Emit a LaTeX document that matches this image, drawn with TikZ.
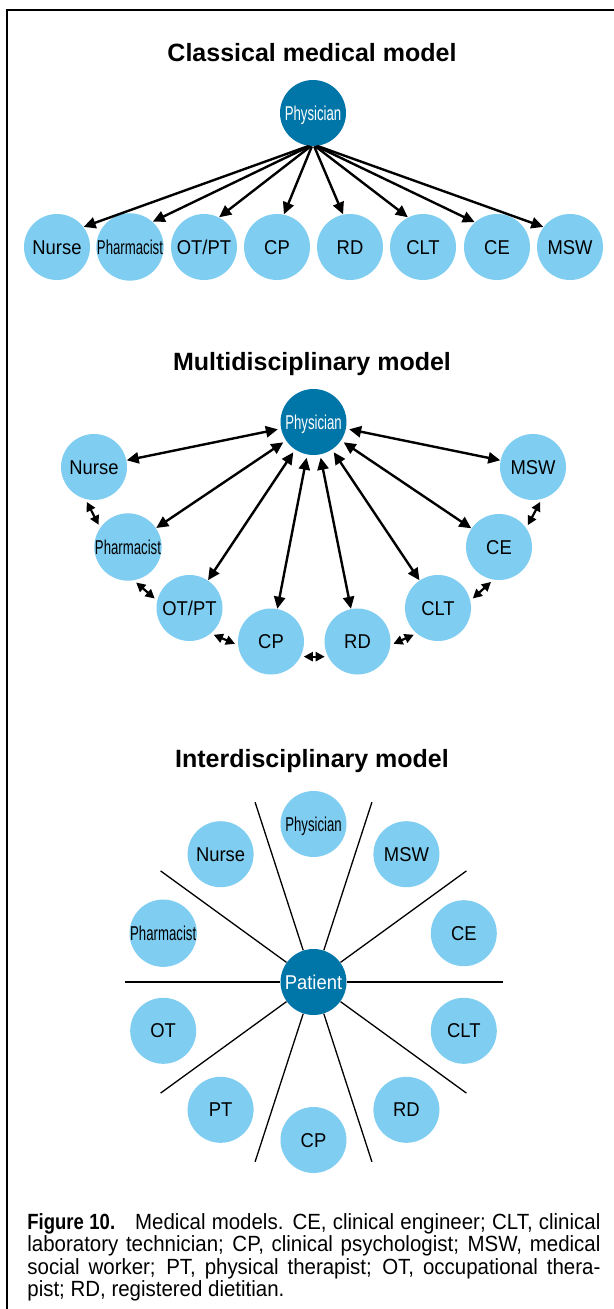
\documentclass[tikz,border=0pt]{standalone}
\usepackage{fontspec}
\usepackage{graphicx}
\setmainfont{Liberation Sans}
\newfontfamily\labelfont[FakeStretch=0.92]{Liberation Sans}
\newfontfamily\narrowfont[FakeStretch=0.66]{Liberation Sans}
\newfontfamily\captionfont[FakeStretch=0.93]{Liberation Sans}
\newfontfamily\capboldfont[FakeStretch=0.84]{Liberation Sans}
\usetikzlibrary{arrows.meta}

\definecolor{cellblue}{RGB}{127,205,241}
\definecolor{coreblue}{RGB}{0,118,168}

\tikzset{
  rolenode/.style={circle, fill=cellblue, minimum size=33pt, inner sep=0pt,
    text=black, font=\labelfont\fontsize{10pt}{11pt}\selectfont,
    text height=7.1pt, text depth=0pt},
  slim/.style={font=\narrowfont\fontsize{10pt}{11pt}\selectfont},
  corenode/.style={rolenode, fill=coreblue, text=white},
  titletext/.style={font=\bfseries\fontsize{12.5pt}{14pt}\selectfont,
    anchor=base, inner sep=0pt},
  oneway/.style={line width=1.2pt, -{Triangle[length=6pt,width=5.6pt]}},
  twoway/.style={line width=1.2pt,
    {Triangle[length=6pt,width=5.6pt]}-{Triangle[length=6pt,width=5.6pt]},
    shorten <=1.5pt},
  peerway/.style={line width=1.1pt,
    {Triangle[length=4.6pt,width=4.6pt]}-{Triangle[length=4.6pt,width=4.6pt]},
    shorten <=1.5pt, shorten >=1.5pt},
  spokeline/.style={line width=0.65pt},
  captionline/.style={anchor=base west, inner sep=0pt,
    font=\captionfont\fontsize{11pt}{12pt}\selectfont},
}

\begin{document}
\begin{tikzpicture}[x=0.5pt, y=-0.5pt]
\useasboundingbox (0,0) rectangle (614,1309);

% outer frame
\draw[line width=1.1pt] (7,1309) |- (614,10);

% ---------------- classical medical model ----------------
\node[titletext] (t1) at (312,61.5) {Classical medical model};
\node[corenode, slim] (cphys) at (313,113) {Physician};
\node[rolenode] (cnurse) at (57,247) {Nurse};
\node[rolenode, slim] (cpharm) at (130,247) {Pharmacist};
\node[rolenode] (cotpt) at (204,247) {OT/PT};
\node[rolenode] (ccp) at (277,247) {CP};
\node[rolenode] (crd) at (350,247) {RD};
\node[rolenode] (cclt) at (423,247) {CLT};
\node[rolenode] (cce) at (497,247) {CE};
\node[rolenode] (cmsw) at (570,247) {MSW};

\draw[oneway] (cphys.262) -- (cnurse.37);
\draw[oneway] (cphys.264) -- (cpharm.48);
\draw[oneway] (cphys.266) -- (cotpt.63);
\draw[oneway] (cphys.268) -- (ccp.78);
\draw[oneway] (cphys.272) -- (crd.102);
\draw[oneway] (cphys.274) -- (cclt.117);
\draw[oneway] (cphys.276) -- (cce.132);
\draw[oneway] (cphys.278) -- (cmsw.143);

% ---------------- multidisciplinary model ----------------
\node[titletext] (t2) at (312,370.5) {Multidisciplinary model};
\node[corenode, slim] (mphys) at (313.5,422) {Physician};
\node[rolenode] (mnurse) at (94,467) {Nurse};
\node[rolenode, slim] (mpharm) at (128,547) {Pharmacist};
\node[rolenode] (motpt) at (189.5,608) {OT/PT};
\node[rolenode] (mcp) at (271,641.5) {CP};
\node[rolenode] (mrd) at (357.5,641.5) {RD};
\node[rolenode] (mclt) at (438,608) {CLT};
\node[rolenode] (mce) at (499,547) {CE};
\node[rolenode] (mmsw) at (533,467) {MSW};

\foreach \m in {mnurse, mpharm, motpt, mcp, mrd, mclt, mce, mmsw}
  \draw[twoway] (mphys) -- (\m);

\draw[peerway] (mnurse.255) -- (mpharm.145);
\draw[peerway] (mpharm.280) -- (motpt.167);
\draw[peerway] (motpt.310) -- (mcp.186);
\draw[peerway] (mcp.333) -- (mrd.207);
\draw[peerway] (mrd.354) -- (mclt.230);
\draw[peerway] (mclt.13) -- (mce.260);
\draw[peerway] (mce.35) -- (mmsw.285);

% ---------------- interdisciplinary model ----------------
\node[titletext] (t3) at (312,767.5) {Interdisciplinary model};
\node[corenode] (pat) at (313.5,982) {Patient};
\node[rolenode, slim] (iphys) at (313.5,824) {Physician};
\node[rolenode] (imsw) at (406.4,854.2) {MSW};
\node[rolenode] (ice) at (463.8,933.2) {CE};
\node[rolenode] (iclt) at (463.8,1030.8) {CLT};
\node[rolenode] (ird) at (406.4,1109.8) {RD};
\node[rolenode] (icp) at (313.5,1140) {CP};
\node[rolenode] (ipt) at (220.6,1109.8) {PT};
\node[rolenode] (iot) at (163.2,1030.8) {OT};
\node[rolenode, slim] (ipharm) at (163.2,933.2) {Pharmacist};
\node[rolenode] (inurse) at (220.6,854.2) {Nurse};

% spokes dividing the disciplines around the patient
\foreach \a in {0,36,...,324}{
  \coordinate (s\a) at ({313.5+189*cos(\a)},{982-189*sin(\a)});
  \draw[spokeline] (pat.\a) -- (s\a);
}

% ---------------- caption ----------------
\node[captionline] (cap1) at (27,1229) {\makebox[286.5pt][s]{{\capboldfont\bfseries Figure 10.}\hspace{10pt}Medical models. CE, clinical engineer; CLT, clinical}};
\node[captionline] (cap2) at (27,1251.5) {\makebox[286.5pt][s]{laboratory technician; CP, clinical psychologist; MSW, medical}};
\node[captionline] (cap3) at (27,1274) {\makebox[286.5pt][s]{social worker; PT, physical therapist; OT, occupational thera-}};
\node[captionline] (cap4) at (27,1296.5) {pist; RD, registered dietitian.};
\end{tikzpicture}
\end{document}
